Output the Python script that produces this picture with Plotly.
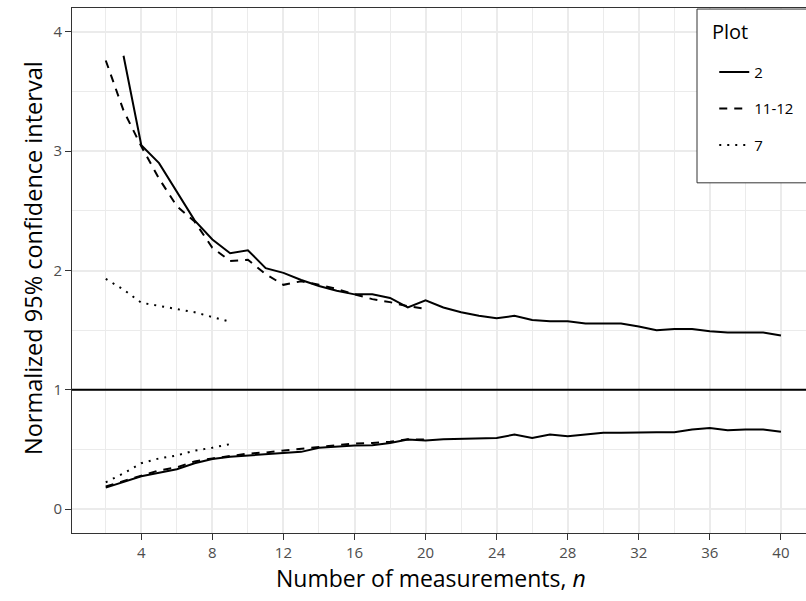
import plotly.graph_objects as go

# sample counts
n_plot2_upper = list(range(3, 41))
n_plot2_lower = list(range(2, 41))
n_plot1112 = list(range(2, 21))
n_plot7 = list(range(2, 10))

# plot 2 (solid)
plot2_upper = [3.80, 3.05, 2.90, 2.66, 2.42, 2.26, 2.145, 2.17, 2.02, 1.98,
               1.92, 1.87, 1.83, 1.80, 1.80, 1.77, 1.69, 1.75, 1.69, 1.65,
               1.62, 1.60, 1.62, 1.585, 1.575, 1.575, 1.555, 1.555, 1.555, 1.53,
               1.50, 1.51, 1.51, 1.49, 1.48, 1.48, 1.48, 1.455]
plot2_lower = [0.18, 0.225, 0.275, 0.305, 0.335, 0.385, 0.42, 0.44, 0.45, 0.455,
               0.47, 0.48, 0.515, 0.525, 0.533, 0.535, 0.555, 0.583, 0.575, 0.585,
               0.59, 0.597, 0.597, 0.625, 0.597, 0.625, 0.61, 0.625, 0.64, 0.64,
               0.644, 0.644, 0.644, 0.667, 0.68, 0.662, 0.667, 0.667, 0.648]

# plot 11-12 (dashed)
plot1112_upper = [3.76, 3.34, 3.04, 2.77, 2.54, 2.41, 2.19, 2.08, 2.09, 1.97,
                  1.88, 1.91, 1.88, 1.845, 1.80, 1.76, 1.735, 1.70, 1.68]
plot1112_lower = [0.19, 0.235, 0.285, 0.325, 0.35, 0.40, 0.425, 0.445, 0.465, 0.475,
                  0.49, 0.51, 0.52, 0.535, 0.55, 0.555, 0.565, 0.585, 0.583]

# plot 7 (dotted)
plot7_upper = [1.93, 1.84, 1.73, 1.705, 1.68, 1.65, 1.61, 1.57]
plot7_lower = [0.225, 0.30, 0.385, 0.425, 0.45, 0.49, 0.515, 0.545]

ref_level = 1
x_ticks = list(range(4, 41, 4))
y_ticks = [0, 1, 2, 3, 4]

FONT = "Open Sans"

series = [
    ("2", "solid", n_plot2_upper, plot2_upper, n_plot2_lower, plot2_lower),
    ("11-12", "8px,7px", n_plot1112, plot1112_upper, n_plot1112, plot1112_lower),
    ("7", "2px,6px", n_plot7, plot7_upper, n_plot7, plot7_lower),
]

fig = go.Figure()
for name, dash, nu, up, nl, lo in series:
    fig.add_trace(go.Scatter(x=nu, y=up, mode="lines", name=name, legendgroup=name,
                             line=dict(color="black", width=2, dash=dash)))
    fig.add_trace(go.Scatter(x=nl, y=lo, mode="lines", name=name, legendgroup=name,
                             showlegend=False,
                             line=dict(color="black", width=2, dash=dash)))

fig.add_hline(y=ref_level, line=dict(color="black", width=2))

# legend box + title (ggplot style box inside the panel)
fig.add_shape(type="rect", xref="paper", yref="paper",
              x0=0.8515, x1=1.02, y0=0.667, y1=0.998,
              fillcolor="white", line=dict(color="#333333", width=1), layer="above")
fig.add_annotation(text="Plot", xref="paper", yref="paper", x=0.869, y=0.955,
                   xanchor="left", yanchor="middle", showarrow=False,
                   font=dict(size=20, family=FONT, color="black"))

# axis titles
fig.add_annotation(text="Number of measurements, <i>n</i>", xref="paper", yref="paper",
                   x=0.489, y=-0.0857, xanchor="center", yanchor="middle", showarrow=False,
                   font=dict(size=23, family=FONT, color="black"))
fig.add_annotation(text="Normalized 95% confidence interval", xref="paper", yref="paper",
                   x=-0.0531, y=0.5238, xanchor="center", yanchor="middle", showarrow=False,
                   textangle=-90, font=dict(size=23.5, family=FONT, color="black"))

fig.update_layout(
    width=806, height=601,
    margin=dict(l=72, r=0, t=8, b=68),
    plot_bgcolor="white", paper_bgcolor="white",
    font=dict(family=FONT, color="black"),
    legend=dict(
        font=dict(size=15, family=FONT),
        x=0.875, y=0.909, xanchor="left", yanchor="top",
        bgcolor="rgba(0,0,0,0)", borderwidth=0,
        traceorder="grouped", tracegroupgap=14,
    ),
    xaxis=dict(
        range=[0.1, 41.41], tickvals=x_ticks, automargin=False,
        showgrid=True, gridcolor="#EBEBEB", gridwidth=1.5,
        minor=dict(dtick=2, tick0=0, showgrid=True, gridcolor="#EBEBEB", gridwidth=1, ticklen=0),
        zeroline=False, showline=True, linecolor="#333333", linewidth=1, mirror=True,
        ticks="outside", ticklen=6, tickcolor="#333333",
        tickfont=dict(size=15, color="#4D4D4D", family=FONT),
    ),
    yaxis=dict(
        range=[-0.2, 4.2], tickvals=y_ticks, automargin=False,
        showgrid=True, gridcolor="#EBEBEB", gridwidth=1.5,
        minor=dict(dtick=0.5, tick0=0, showgrid=True, gridcolor="#EBEBEB", gridwidth=1, ticklen=0),
        zeroline=False, showline=True, linecolor="#333333", linewidth=1,
        ticks="outside", ticklen=6, tickcolor="#333333",
        tickfont=dict(size=15, color="#4D4D4D", family=FONT),
    ),
)

fig.write_html("out.html", config={"displayModeBar": False},
               post_script="document.body.style.margin='0';")
